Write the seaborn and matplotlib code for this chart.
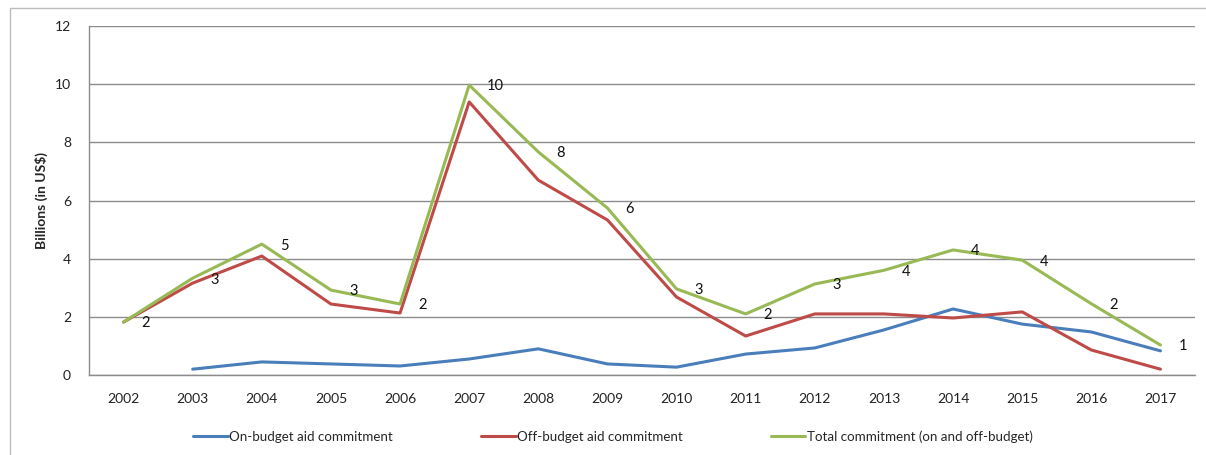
import matplotlib
matplotlib.use("Agg")
import matplotlib.pyplot as plt
import seaborn as sns
import pandas as pd
import numpy as np
from matplotlib.patches import Rectangle

years = ["2002", "2003", "2004", "2005", "2006", "2007", "2008", "2009",
         "2010", "2011", "2012", "2013", "2014", "2015", "2016", "2017"]
on_budget = [np.nan, 0.20, 0.45, 0.38, 0.31, 0.55, 0.90, 0.38,
             0.27, 0.72, 0.93, 1.55, 2.27, 1.75, 1.48, 0.83]
off_budget = [1.82, 3.16, 4.09, 2.44, 2.13, 9.39, 6.70, 5.33,
              2.68, 1.34, 2.10, 2.10, 1.96, 2.17, 0.86, 0.20]
total = [1.82, 3.33, 4.50, 2.92, 2.44, 9.97, 7.67, 5.74,
         2.96, 2.10, 3.13, 3.60, 4.30, 3.95, 2.45, 1.03]
total_labels = ["2", "3", "5", "3", "2", "10", "8", "6",
                "3", "2", "3", "4", "4", "4", "2", "1"]
series_names = ["On-budget aid commitment", "Off-budget aid commitment",
                "Total commitment (on and off-budget)"]
colors = ["#4A7EBB", "#BE4B48", "#98B954"]

df = pd.DataFrame({
    "year": years * 3,
    "value": on_budget + off_budget + total,
    "series": [series_names[0]] * 16 + [series_names[1]] * 16 + [series_names[2]] * 16,
})

sns.set_theme(style="white")
plt.rcParams["font.family"] = ["Lato", "DejaVu Sans"]

fig = plt.figure(figsize=(12.06, 4.55), dpi=100)
ax = fig.add_axes([89 / 1206, 1 - 375 / 455, (1195 - 89) / 1206, (375 - 26) / 455])

sns.lineplot(data=df, x="year", y="value", hue="series", palette=colors,
             linewidth=2.2, ax=ax, sort=False, legend=True)

ax.set_xlim(-0.5, 15.5)
ax.set_ylim(0, 12)
ax.set_yticks(range(0, 13, 2))
ax.yaxis.grid(True, color="#8c8c8c", linewidth=1.0)
ax.set_axisbelow(True)
ax.set_xlabel("")
ax.set_ylabel("Billions (in US$)", fontsize=10, fontweight="bold")

for s in ["top", "right"]:
    ax.spines[s].set_visible(False)
for s in ["left", "bottom"]:
    ax.spines[s].set_color("#8c8c8c")
    ax.spines[s].set_linewidth(1.0)

ax.set_xticks(range(16))
ax.set_xticklabels(years)
ax.set_xticks(np.arange(-0.5, 16, 1), minor=True)
ax.tick_params(axis="x", which="major", length=0, pad=13, labelsize=10, colors="#222222")
ax.tick_params(axis="x", which="minor", length=5, width=1, color="#8c8c8c", direction="out")
ax.tick_params(axis="y", which="major", length=5, width=1, color="#8c8c8c", direction="out",
               labelsize=10, labelcolor="#222222", pad=8)
ax.yaxis.set_label_coords(-0.037, 0.5)

for i, (v, lab) in enumerate(zip(total, total_labels)):
    ax.annotate(lab, (i, v), xytext=(13, -1), textcoords="offset points",
                fontsize=10.5, ha="left", va="center", color="#111111")

handles, labels = ax.get_legend_handles_labels()
ax.legend(handles, labels, loc="upper center", bbox_to_anchor=(613 / 1206, 1 - 418 / 455),
          bbox_transform=fig.transFigure,
          ncol=3, frameon=False, fontsize=9.6, handlelength=2.6, handletextpad=0.1,
          columnspacing=6.6)

fig.patches.append(Rectangle((10 / 1206, -0.05), 1.1, 1 - 8 / 455 + 0.05,
                             transform=fig.transFigure, fill=False,
                             edgecolor="#bdbdbd", linewidth=1.0))

fig.savefig("out.png", dpi=100)
